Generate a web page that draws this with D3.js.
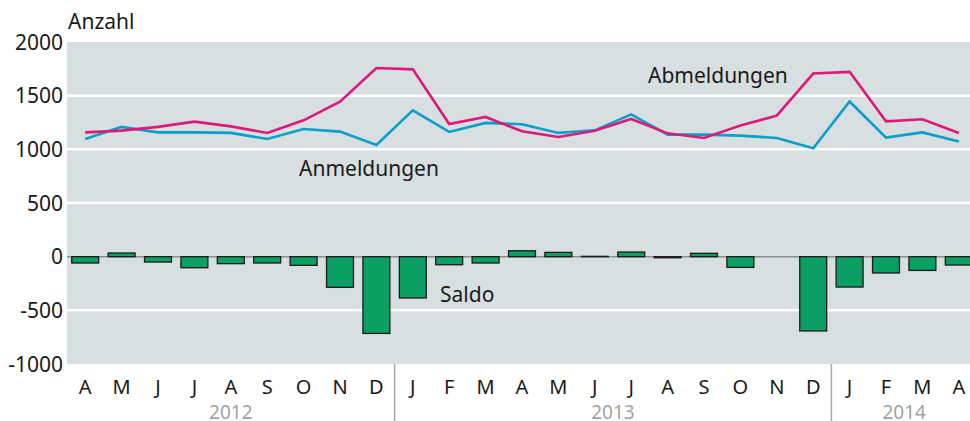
<!DOCTYPE html>
<html>
<head>
<meta charset="utf-8">
<script src="https://cdn.jsdelivr.net/npm/d3@7"></script>
<style>
  body { margin: 0; background: #fff; }
  svg { display: block; font-family: "Noto Sans", sans-serif; }
</style>
</head>
<body>
<div class="chart"></div>
<script>
// Monate April 2012 bis April 2014
let months = ["A","M","J","J","A","S","O","N","D","J","F","M","A","M","J","J","A","S","O","N","D","J","F","M","A"]
let years = [
  { label: "2012", from: 0, to: 8 },
  { label: "2013", from: 9, to: 20 },
  { label: "2014", from: 21, to: 24 }
]
let anmeldungen = [1097, 1209, 1158, 1158, 1153, 1097, 1190, 1165, 1041, 1364, 1162, 1246, 1233, 1153, 1177, 1326, 1137, 1137, 1128, 1106, 1009, 1445, 1109, 1158, 1072]
let abmeldungen = [1158, 1174, 1209, 1258, 1214, 1153, 1270, 1444, 1758, 1745, 1236, 1302, 1168, 1115, 1174, 1283, 1149, 1106, 1221, 1314, 1706, 1722, 1261, 1280, 1153]
let saldo = [-59, 34, -50, -103, -65, -59, -81, -286, -715, -385, -75, -59, 55, 40, 3, 43, -10, 31, -100, 0, -692, -283, -152, -128, -78]
let yTicks = [2000, 1500, 1000, 500, 0, -500, -1000]

let width = 970
let height = 421
let margin = { top: 42, left: 67, bottom: 57 }
let plotRight = 977

let svg = d3.select(".chart")
  .append("svg")
  .attr("width", width)
  .attr("height", height)

let x = d3.scaleBand()
  .domain(d3.range(months.length))
  .range([margin.left, plotRight])
  .paddingInner(0.26)
  .paddingOuter(0.13)

let y = d3.scaleLinear()
  .domain([-1000, 2000])
  .range([height - margin.bottom, margin.top])

let step = x.step()
let xLeft = i => margin.left + i * step
let xMid = i => x(i) + x.bandwidth() / 2

// Hintergrund
svg.append("rect")
  .attr("x", margin.left)
  .attr("y", y(2000))
  .attr("width", plotRight - margin.left)
  .attr("height", y(-1000) - y(2000))
  .attr("fill", "#d8dfe1")

// Gitterlinien
svg.selectAll(".grid")
  .data(yTicks.filter(d => d != 0 && d != 2000 && d != -1000))
  .enter()
  .append("line")
  .attr("x1", margin.left)
  .attr("x2", plotRight)
  .attr("y1", d => y(d))
  .attr("y2", d => y(d))
  .attr("stroke", "#fff")
  .attr("stroke-width", 2.5)

svg.append("line")
  .attr("x1", margin.left)
  .attr("x2", plotRight)
  .attr("y1", y(0))
  .attr("y2", y(0))
  .attr("stroke", "#8a8f91")
  .attr("stroke-width", 1.5)

// Saldo-Balken
svg.selectAll(".bar")
  .data(saldo)
  .enter()
  .append("rect")
  .attr("x", (d, i) => x(i))
  .attr("y", d => y(Math.max(0, d)))
  .attr("width", x.bandwidth())
  .attr("height", d => Math.abs(y(d) - y(0)))
  .attr("fill", "#0a9f63")
  .attr("stroke", d => d == 0 ? "none" : "#1a1a1a")
  .attr("stroke-width", 1.3)

// Linien
let line = d3.line()
  .x((d, i) => xMid(i))
  .y(d => y(d))

svg.append("path")
  .datum(anmeldungen)
  .attr("d", line)
  .attr("fill", "none")
  .attr("stroke", "#0a9fcb")
  .attr("stroke-width", 2.6)

svg.append("path")
  .datum(abmeldungen)
  .attr("d", line)
  .attr("fill", "none")
  .attr("stroke", "#dd1a79")
  .attr("stroke-width", 2.6)

// Serienbeschriftungen
let labelStyle = sel => sel
  .attr("font-size", 21)
  .attr("fill", "#1a1a1a")

svg.append("text").call(labelStyle)
  .attr("x", 648).attr("y", 83)
  .text("Abmeldungen")
svg.append("text").call(labelStyle)
  .attr("x", 299).attr("y", 176)
  .text("Anmeldungen")
svg.append("text").call(labelStyle)
  .attr("x", 440).attr("y", 302)
  .text("Saldo")

// y-Achse
svg.selectAll(".ytick")
  .data(yTicks)
  .enter()
  .append("text")
  .attr("x", 63)
  .attr("y", d => y(d) + 7.5)
  .attr("text-anchor", "end")
  .attr("font-size", 21)
  .attr("fill", "#1a1a1a")
  .text(d => d)

svg.append("text")
  .attr("x", 68)
  .attr("y", 29)
  .attr("font-size", 21)
  .attr("fill", "#1a1a1a")
  .text("Anzahl")

// x-Achse: Monate
svg.selectAll(".month")
  .data(months)
  .enter()
  .append("text")
  .attr("x", (d, i) => xLeft(i) + step / 2)
  .attr("y", 394)
  .attr("text-anchor", "middle")
  .attr("font-size", 20)
  .attr("fill", "#1a1a1a")
  .text(d => d)

// Jahrestrenner und Jahre
svg.selectAll(".sep")
  .data(years.slice(1))
  .enter()
  .append("line")
  .attr("x1", d => xLeft(d.from))
  .attr("x2", d => xLeft(d.from))
  .attr("y1", y(-1000))
  .attr("y2", height)
  .attr("stroke", "#a8a8a8")
  .attr("stroke-width", 1.5)

svg.selectAll(".year")
  .data(years)
  .enter()
  .append("text")
  .attr("x", d => (xLeft(d.from) + xLeft(d.to + 1)) / 2)
  .attr("y", 419)
  .attr("text-anchor", "middle")
  .attr("font-size", 19)
  .attr("fill", "#a3a3a3")
  .text(d => d.label)
</script>
</body>
</html>
